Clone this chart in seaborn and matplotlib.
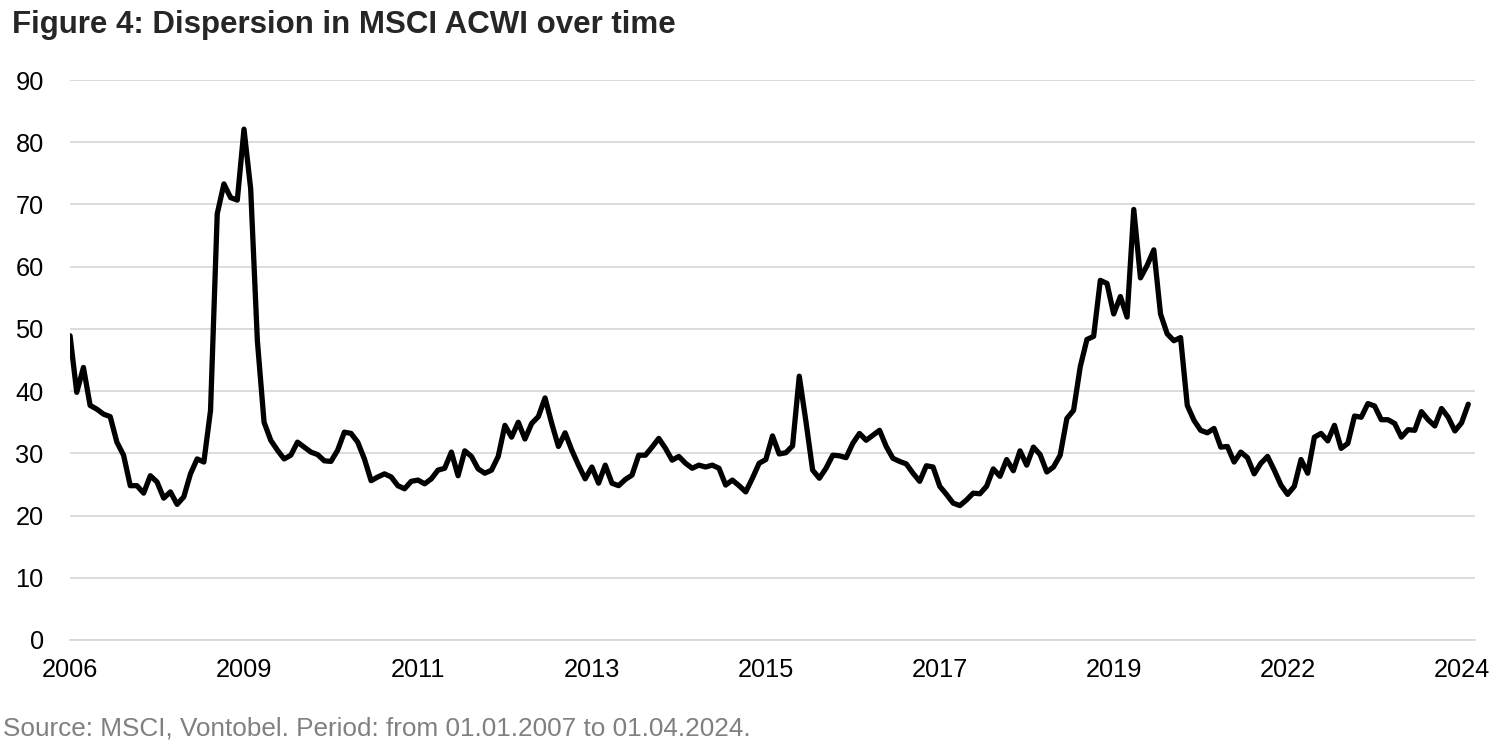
import numpy as np
import pandas as pd
import seaborn as sns
from matplotlib import pyplot as plt

# Monthly dispersion values (210 points)
dispersion = [
    48.9, 39.8, 43.8, 37.7, 37.1, 36.3, 35.9, 31.8, 29.7, 24.8,
    24.8, 23.6, 26.4, 25.4, 22.8, 23.8, 21.8, 23.0, 26.7, 29.1,
    28.6, 36.9, 68.5, 73.3, 71.1, 70.7, 82.1, 72.5, 48.1, 35.0,
    32.1, 30.5, 29.1, 29.7, 31.8, 31.0, 30.2, 29.8, 28.8, 28.7,
    30.5, 33.4, 33.2, 31.8, 29.1, 25.6, 26.2, 26.7, 26.2, 24.8,
    24.3, 25.5, 25.7, 25.1, 25.9, 27.3, 27.6, 30.2, 26.4, 30.4,
    29.5, 27.5, 26.8, 27.3, 29.5, 34.5, 32.6, 35.0, 32.3, 34.8,
    35.9, 38.9, 34.8, 31.1, 33.3, 30.5, 28.1, 25.9, 27.8, 25.2,
    28.1, 25.2, 24.8, 25.8, 26.5, 29.7, 29.7, 31.0, 32.4, 30.8,
    28.9, 29.5, 28.4, 27.6, 28.1, 27.8, 28.1, 27.6, 24.9, 25.7,
    24.8, 23.8, 26.0, 28.4, 29.0, 32.8, 29.9, 30.1, 31.2, 42.4,
    35.1, 27.3, 26.0, 27.6, 29.7, 29.6, 29.3, 31.6, 33.2, 32.1,
    32.9, 33.7, 31.1, 29.2, 28.7, 28.3, 26.8, 25.5, 28.0, 27.8,
    24.7, 23.4, 22.0, 21.6, 22.5, 23.6, 23.5, 24.7, 27.5, 26.3,
    29.0, 27.2, 30.4, 28.1, 31.0, 29.8, 27.0, 27.8, 29.7, 35.6,
    36.9, 43.9, 48.3, 48.8, 57.8, 57.3, 52.4, 55.2, 51.9, 69.2,
    58.2, 60.2, 62.7, 52.4, 49.2, 48.1, 48.6, 37.7, 35.3, 33.7,
    33.3, 34.0, 31.0, 31.1, 28.6, 30.2, 29.3, 26.7, 28.4, 29.5,
    27.3, 24.9, 23.4, 24.7, 29.0, 26.8, 32.6, 33.2, 32.0, 34.5,
    30.8, 31.6, 36.0, 35.8, 38.0, 37.6, 35.4, 35.4, 34.8, 32.6,
    33.8, 33.7, 36.7, 35.4, 34.4, 37.2, 35.8, 33.6, 34.9, 37.9,
]

year_labels = ['2006', '2009', '2011', '2013', '2015', '2017', '2019', '2022', '2024']
label_step = 26  # category axis: one label every 26 months

df = pd.DataFrame({'month': np.arange(len(dispersion)), 'dispersion': dispersion})

sns.set_style('white')
plt.rcParams['font.family'] = ['Liberation Sans', 'DejaVu Sans']

fig = plt.figure(figsize=(15, 7.5), dpi=100)
ax = fig.add_axes([0.0467, 0.1467, 0.9366, 0.7466])

sns.lineplot(data=df, x='month', y='dispersion', color='black', linewidth=3.8, ax=ax)

ax.set_xlim(0, 210)
ax.set_ylim(0, 90)
ax.set_yticks(range(0, 91, 10))
ax.set_xticks(np.arange(len(year_labels)) * label_step)
ax.set_xticklabels(year_labels)
ax.yaxis.grid(True, color='#d9d9d9', linewidth=1.3)
ax.set_axisbelow(True)

for side in ['left', 'right', 'top']:
    ax.spines[side].set_visible(False)
ax.spines['bottom'].set_color('#d9d9d9')
ax.spines['bottom'].set_linewidth(1.3)

ax.tick_params(axis='y', length=0, pad=19, labelsize=18.3, labelcolor='black')
ax.tick_params(axis='x', length=5, width=1.3, color='#d9d9d9', pad=8, labelsize=18.3, labelcolor='black')
ax.set_xlabel('')
ax.set_ylabel('')

fig.text(0.008, 0.966, 'Figure 4: Dispersion in MSCI ACWI over time',
         fontsize=22.5, fontweight='bold', ha='left', va='center')
fig.text(0.002, 0.029, 'Source: MSCI, Vontobel. Period: from 01.01.2007 to 01.04.2024.',
         fontsize=18.8, color='#808080', ha='left', va='center')

fig.savefig('out.png', dpi=100)
